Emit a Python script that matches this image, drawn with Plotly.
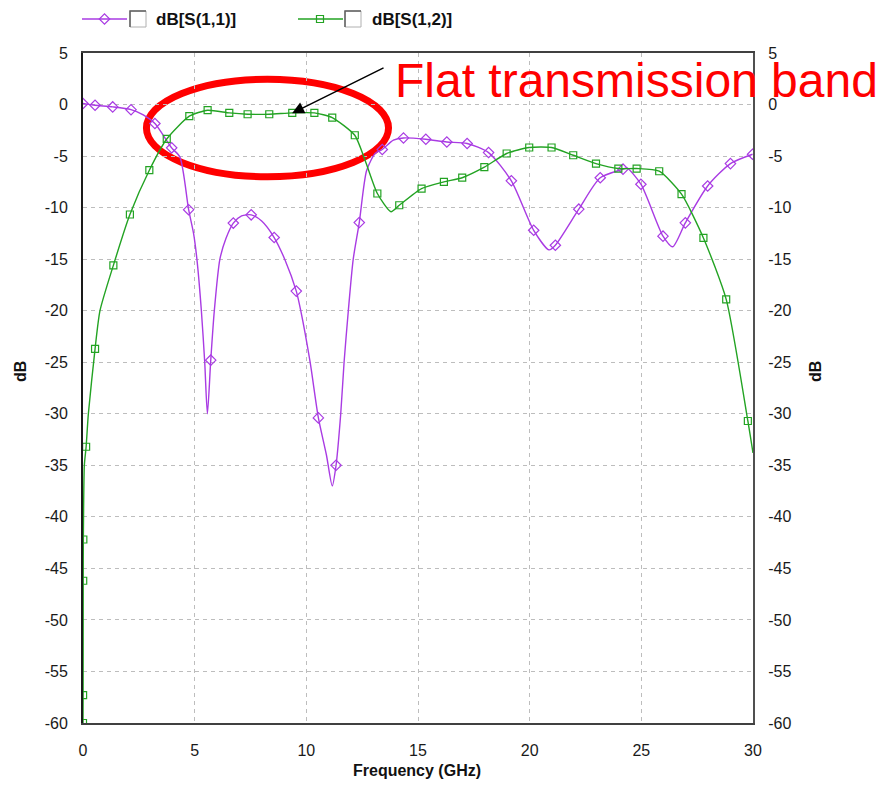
import plotly.graph_objects as go

# ---- S-parameter data (frequency in GHz, magnitude in dB) ----
# dB[S(1,1)] : smooth curve points and the plotted sample markers
s11_freq = [0, 0.54, 1.33, 2.15, 2.7, 3.22, 3.97, 4.34, 4.73, 4.95, 5.1, 5.3, 5.45, 5.57,
            5.72, 5.88, 6.13, 6.4, 6.73, 7.1, 7.53, 8.0, 8.56, 9.05, 9.55, 9.75, 10.17,
            10.54, 10.9, 11.16, 11.33, 11.54, 11.69, 11.88, 12.1, 12.37, 12.7, 13.08,
            13.4, 13.9, 14.35, 15.35, 16.29, 17.2, 18.16, 19.18, 20.18, 20.87, 21.15,
            22.2, 23.16, 24.18, 24.35, 24.98, 25.97, 26.4, 26.97, 27.97, 28.99, 29.98]
s11_db = [0.1, -0.07, -0.23, -0.5, -1.0, -1.84, -4.2, -5.1, -10.2, -12.5, -15.0, -20.0,
          -25.0, -30.0, -24.8, -20.0, -15.0, -13.0, -11.5, -10.8, -10.7, -11.3, -12.9,
          -15.1, -18.1, -20.0, -25.0, -30.4, -34.0, -37.0, -35.0, -30.0, -25.0, -20.0,
          -15.0, -11.45, -6.4, -4.75, -4.36, -3.46, -3.24, -3.37, -3.63, -3.78, -4.66,
          -7.4, -12.2, -14.1, -13.65, -10.15, -7.1, -6.27, -6.15, -7.73, -12.77, -13.8,
          -11.48, -7.9, -5.73, -4.82]
s11_mark_freq = [0, 0.54, 1.33, 2.15, 3.22, 3.97, 4.73, 5.72, 6.73, 7.53, 8.56, 9.55, 10.54,
                 11.33, 12.37, 13.4, 14.35, 15.35, 16.29, 17.2, 18.16, 19.18, 20.18, 21.15,
                 22.2, 23.16, 24.18, 24.98, 25.97, 26.97, 27.97, 28.99, 29.98]
s11_mark_db = [0.1, -0.07, -0.23, -0.5, -1.84, -4.2, -10.2, -24.8, -11.5, -10.7, -12.9, -18.1,
               -30.4, -35.0, -11.45, -4.36, -3.24, -3.37, -3.63, -3.78, -4.66, -7.4, -12.2,
               -13.65, -10.15, -7.1, -6.27, -7.73, -12.77, -11.48, -7.9, -5.73, -4.82]

# dB[S(1,2)] : smooth curve points and the plotted sample markers
s12_freq = [0, 0.005, 0.01, 0.015, 0.06, 0.14, 0.24, 0.54, 0.76, 1.36, 2.1, 2.97, 3.75,
            4.76, 5.58, 6.55, 7.37, 8.34, 9.37, 10.36, 11.16, 12.17, 12.63, 13.18, 13.79,
            14.16, 15.16, 16.16, 16.98, 17.97, 18.97, 19.98, 20.98, 21.95, 22.97, 23.97,
            24.79, 25.8, 26.8, 27.78, 28.8, 29.77, 30.0]
s12_db = [-60.0, -57.3, -46.2, -42.2, -35.0, -33.2, -30.0, -23.7, -20.0, -15.6, -10.67,
          -6.37, -3.34, -1.13, -0.55, -0.81, -0.94, -0.94, -0.81, -0.81, -1.26, -2.98, -5.4,
          -8.63, -10.4, -9.77, -8.15, -7.5, -7.1, -6.08, -4.75, -4.17, -4.17, -4.92, -5.73,
          -6.21, -6.21, -6.47, -8.7, -12.94, -18.9, -30.7, -33.8]
s12_mark_freq = [0, 0.005, 0.01, 0.015, 0.14, 0.54, 1.36, 2.1, 2.97, 3.75, 4.76, 5.58, 6.55,
                 7.37, 8.34, 9.37, 10.36, 11.16, 12.17, 13.18, 14.16, 15.16, 16.16, 16.98,
                 17.97, 18.97, 19.98, 20.98, 21.95, 22.97, 23.97, 24.79, 25.8, 26.8, 27.78,
                 28.8, 29.77]
s12_mark_db = [-60.0, -57.3, -46.2, -42.2, -33.2, -23.7, -15.6, -10.67, -6.37, -3.34, -1.13,
               -0.55, -0.81, -0.94, -0.94, -0.81, -0.81, -1.26, -2.98, -8.63, -9.77, -8.15,
               -7.5, -7.1, -6.08, -4.75, -4.17, -4.17, -4.92, -5.73, -6.21, -6.21, -6.47,
               -8.7, -12.94, -18.9, -30.7]

series_names = ["dB[S(1,1)]", "dB[S(1,2)]"]
x_ticks = [0, 5, 10, 15, 20, 25, 30]
y_ticks = list(range(-60, 6, 5))

W, H = 881, 787
PURPLE = "#A93BE3"
GREEN = "#23A323"
FONT = "Arial, Liberation Sans, sans-serif"

# plot area in pixels
PL, PR, PT, PB = 83, 753, 53, 723

fig = go.Figure()

# curves
fig.add_trace(go.Scatter(x=s11_freq, y=s11_db, mode="lines",
                         line=dict(color=PURPLE, width=1.4, shape="spline", smoothing=0.7),
                         hoverinfo="skip", showlegend=False))
fig.add_trace(go.Scatter(x=s11_mark_freq, y=s11_mark_db, mode="markers",
                         marker=dict(symbol="diamond-open", size=8, color=PURPLE,
                                     line=dict(width=1.2, color=PURPLE)),
                         name=series_names[0], showlegend=False))
fig.add_trace(go.Scatter(x=s12_freq, y=s12_db, mode="lines", yaxis="y2",
                         line=dict(color=GREEN, width=1.4, shape="spline", smoothing=0.6),
                         hoverinfo="skip", showlegend=False))
fig.add_trace(go.Scatter(x=s12_mark_freq, y=s12_mark_db, mode="markers", yaxis="y2",
                         marker=dict(symbol="square-open", size=7, color=GREEN,
                                     line=dict(width=1.2, color=GREEN)),
                         name=series_names[1], showlegend=False))

# legend glyphs on a full-figure pixel overlay
legend_items = [(82, 127, 104.5, 130, 154, PURPLE, "diamond-open", 8, series_names[0]),
                (298, 343, 320, 345, 370, GREEN, "square-open", 7, series_names[1])]
for (lx0, lx1, mx, cbx, tx, col, sym, msz, label) in legend_items:
    fig.add_trace(go.Scatter(x=[lx0, lx1], y=[19, 19], mode="lines", xaxis="x3", yaxis="y3",
                             line=dict(color=col, width=1.4), hoverinfo="skip",
                             showlegend=False))
    fig.add_trace(go.Scatter(x=[mx], y=[19], mode="markers", xaxis="x3", yaxis="y3",
                             marker=dict(symbol=sym, size=msz, color=col,
                                         line=dict(width=1.2, color=col)),
                             hoverinfo="skip", showlegend=False))

shapes = []
for (lx0, lx1, mx, cbx, tx, col, sym, msz, label) in legend_items:
    shapes.append(dict(type="rect", xref="x3", yref="y3", x0=cbx, x1=cbx + 16, y0=11, y1=27,
                       line=dict(color="#B0B0B0", width=1), fillcolor="white"))
    shapes.append(dict(type="path", xref="x3", yref="y3",
                       path=f"M {cbx} 27 L {cbx} 11 L {cbx + 16} 11",
                       line=dict(color="#606060", width=1.5)))

# highlight ellipse around the pass band (drawn beneath the curves)
shapes.append(dict(type="circle", xref="x", yref="y", x0=2.84, x1=13.68, y0=-7.0, y1=2.45,
                   line=dict(color="#FF0000", width=7), layer="below"))

annotations = []
for (lx0, lx1, mx, cbx, tx, col, sym, msz, label) in legend_items:
    annotations.append(dict(xref="x3", yref="y3", x=tx, y=19, text=label, showarrow=False,
                            xanchor="left", yanchor="middle",
                            font=dict(family=FONT, size=17, color="#111111", weight="bold")))

# arrow to the flat band
annotations.append(dict(xref="x", yref="y", x=9.36, y=-0.84, ax=93, ay=-46, text="",
                        showarrow=True, arrowhead=2, arrowsize=1.6, arrowwidth=1.5,
                        arrowcolor="black"))
annotations.append(dict(xref="x3", yref="y3", x=393, y=80, text="Flat transmission band",
                        showarrow=False, xanchor="left", yanchor="middle",
                        font=dict(family=FONT, size=48, color="#FF0000")))

# axis titles
annotations.append(dict(xref="x3", yref="y3", x=417, y=770, text="Frequency (GHz)",
                        showarrow=False, xanchor="center", yanchor="middle",
                        font=dict(family=FONT, size=16, color="#111111", weight="bold")))
for xp in (20, 815):
    annotations.append(dict(xref="x3", yref="y3", x=xp, y=372, text="dB", textangle=-90,
                            showarrow=False, xanchor="center", yanchor="middle",
                            font=dict(family=FONT, size=16, color="#111111", weight="bold")))

tick_font = dict(family=FONT, size=16, color="#1A1A1A")
grid = dict(showgrid=True, gridcolor="#BDBDBD", gridwidth=1.2, griddash="4px,4px",
            zeroline=False)

fig.update_layout(
    width=W, height=H,
    margin=dict(l=0, r=0, t=0, b=0),
    paper_bgcolor="white", plot_bgcolor="rgba(0,0,0,0)",
    showlegend=False,
    shapes=shapes, annotations=annotations,
    xaxis=dict(domain=[PL / W, PR / W], range=[0, 30], tickvals=x_ticks,
               ticktext=[str(v) for v in x_ticks], tickfont=tick_font, ticks="",
               ticklabelstandoff=12, showline=True, linecolor="#404040", linewidth=2,
               mirror=True, automargin=False, anchor="y", **grid),
    yaxis=dict(domain=[1 - PB / H, 1 - PT / H], range=[-60, 5], tickvals=y_ticks,
               ticktext=[str(v) for v in y_ticks], tickfont=tick_font, ticks="",
               ticklabelstandoff=10, showline=True, linecolor="#1A1A1A", linewidth=2,
               automargin=False, anchor="x", **grid),
    yaxis2=dict(domain=[1 - PB / H, 1 - PT / H], range=[-60, 5], tickvals=y_ticks,
                ticktext=[str(v) for v in y_ticks], tickfont=tick_font, ticks="",
                ticklabelstandoff=10, showline=True, linecolor="#505050", linewidth=2,
                overlaying="y", side="right", anchor="x", automargin=False,
                showgrid=False, zeroline=False),
    xaxis3=dict(domain=[0, 1], range=[0, W], visible=False, fixedrange=True, anchor="y3"),
    yaxis3=dict(domain=[0, 1], range=[H, 0], visible=False, fixedrange=True, anchor="x3"),
)

fig.write_html("out.html")
